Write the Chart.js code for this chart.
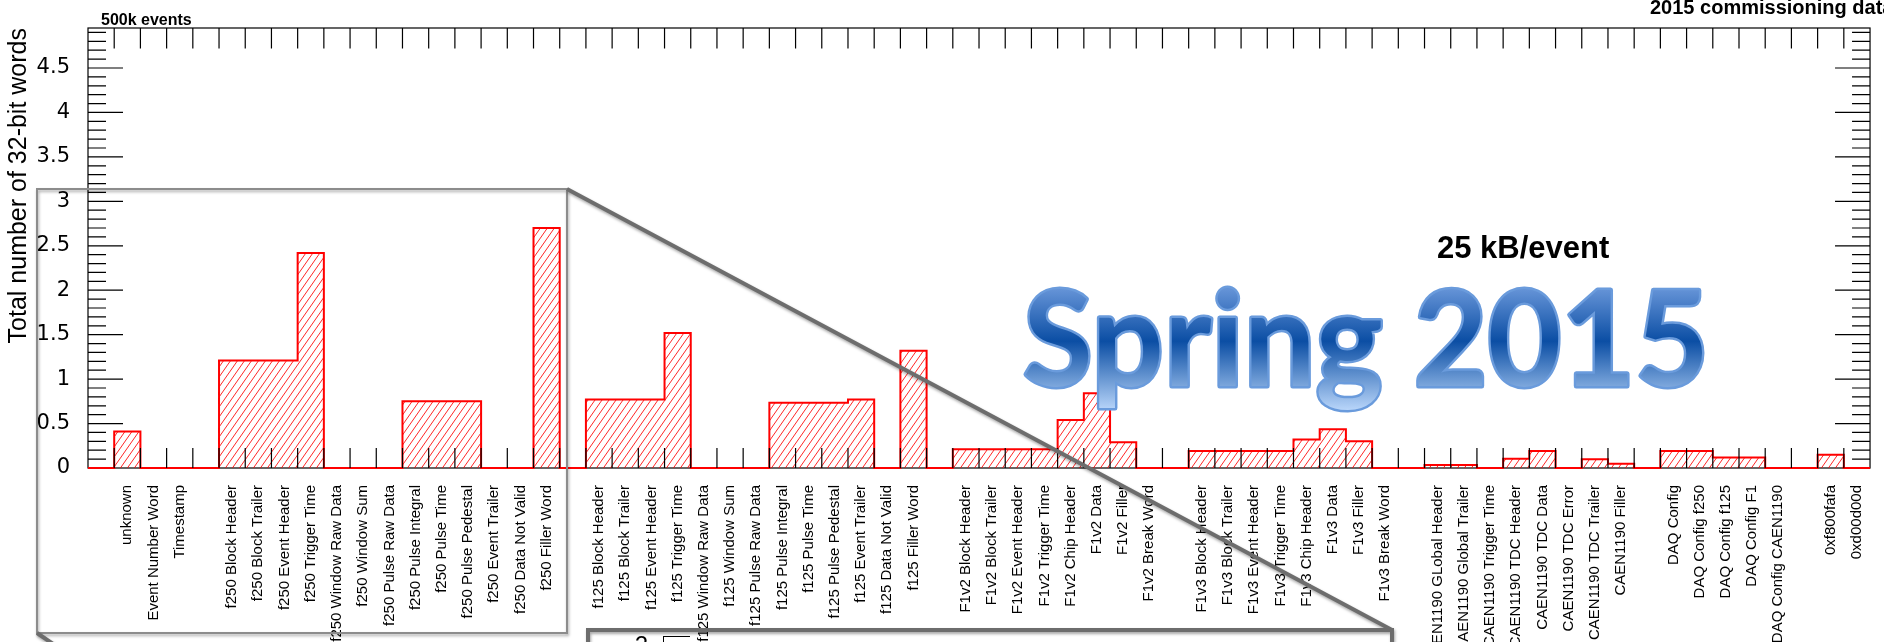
<!DOCTYPE html>
<html>
<head>
<meta charset="utf-8">
<script src="https://cdn.jsdelivr.net/npm/chart.js@4/dist/chart.umd.min.js"></script>
<style>
  html, body { margin: 0; padding: 0; background: #ffffff; }
  canvas { display: block; }
</style>
</head>
<body>
<canvas id="words" width="1884" height="642"></canvas>
<script>
// Word-type breakdown, 500k events, 2015 commissioning data

const binLabels = [
  '', 'unknown', 'Event Number Word', 'Timestamp', '',
  'f250 Block Header', 'f250 Block Trailer', 'f250 Event Header', 'f250 Trigger Time',
  'f250 Window Raw Data', 'f250 Window Sum', 'f250 Pulse Raw Data', 'f250 Pulse Integral',
  'f250 Pulse Time', 'f250 Pulse Pedestal', 'f250 Event Trailer', 'f250 Data Not Valid',
  'f250 Filler Word', '',
  'f125 Block Header', 'f125 Block Trailer', 'f125 Event Header', 'f125 Trigger Time',
  'f125 Window Raw Data', 'f125 Window Sum', 'f125 Pulse Raw Data', 'f125 Pulse Integral',
  'f125 Pulse Time', 'f125 Pulse Pedestal', 'f125 Event Trailer', 'f125 Data Not Valid',
  'f125 Filler Word', '',
  'F1v2 Block Header', 'F1v2 Block Trailer', 'F1v2 Event Header', 'F1v2 Trigger Time',
  'F1v2 Chip Header', 'F1v2 Data', 'F1v2 Filler', 'F1v2 Break Word', '',
  'F1v3 Block Header', 'F1v3 Block Trailer', 'F1v3 Event Header', 'F1v3 Trigger Time',
  'F1v3 Chip Header', 'F1v3 Data', 'F1v3 Filler', 'F1v3 Break Word', '',
  'CAEN1190 GLobal Header', 'CAEN1190 Global Trailer', 'CAEN1190 Trigger Time',
  'CAEN1190 TDC Header', 'CAEN1190 TDC Data', 'CAEN1190 TDC Error',
  'CAEN1190 TDC Trailer', 'CAEN1190 Filler', '',
  'DAQ Config', 'DAQ Config f250', 'DAQ Config f125', 'DAQ Config F1',
  'DAQ Config CAEN1190', '',
  '0xf800fafa', '0xd00d00d',
];

// total number of 32-bit words per event, one value per bin
const wordCounts = [
  0, 0.41, 0, 0, 0,
  1.21, 1.21, 1.21, 2.42,
  0, 0, 0, 0.75,
  0.75, 0.75, 0, 0,
  2.70, 0,
  0.77, 0.77, 0.77, 1.52,
  0, 0, 0, 0.735,
  0.735, 0.735, 0.77, 0,
  1.32, 0,
  0.21, 0.21, 0.21, 0.21,
  0.54, 0.84, 0.29, 0, 0,
  0.19, 0.19, 0.19, 0.19,
  0.32, 0.435, 0.30, 0, 0,
  0.034, 0.034, 0,
  0.105, 0.19, 0,
  0.098, 0.049, 0,
  0.19, 0.19, 0.117, 0.117,
  0, 0,
  0.15, 0,
];

const yMax = 4.95;
const yStep = 0.5;

const FONT = '"Liberation Sans", Arial, Helvetica, sans-serif';

// ROOT style 3004-ish hatch
function makeHatch() {
  const w = 7, h = 10;
  const c = document.createElement('canvas');
  c.width = w; c.height = h;
  const g = c.getContext('2d');
  g.strokeStyle = 'rgba(255,0,0,0.85)';
  g.lineWidth = 1;
  g.beginPath();
  for (let k = -1; k <= 1; k++) {
    g.moveTo(k * w, h);
    g.lineTo(k * w + w, 0);
  }
  g.stroke();
  return g.createPattern(c, 'repeat');
}

// histogram as left-edge points + closing point
const histPoints = wordCounts.map((v, i) => ({ x: i, y: v }));
histPoints.push({ x: wordCounts.length, y: wordCounts[wordCounts.length - 1] });

// frame, inward ticks and the slide overlays
const rootFrame = {
  id: 'rootFrame',
  beforeDatasetsDraw(chart) {
    const { ctx, chartArea: a } = chart;
    ctx.save();
    ctx.strokeStyle = '#000';
    ctx.lineWidth = 1.2;
    ctx.strokeRect(a.left, a.top, a.right - a.left, a.bottom - a.top);
    ctx.restore();
  },
  afterDatasetsDraw(chart) {
    const { ctx, chartArea: a, scales } = chart;
    const xh = scales.xh, y = scales.y;
    ctx.save();
    ctx.strokeStyle = '#000';
    ctx.lineWidth = 1.2;
    ctx.beginPath();
    for (let i = 1; i < binLabels.length; i++) {
      const px = xh.getPixelForValue(i);
      ctx.moveTo(px, a.bottom); ctx.lineTo(px, a.bottom - 20);
      ctx.moveTo(px, a.top); ctx.lineTo(px, a.top + 20.5);
    }
    for (let k = 1; k * 0.1 < yMax; k++) {
      const py = y.getPixelForValue(k * 0.1);
      const len = k % 5 === 0 ? 35 : 18;
      ctx.moveTo(a.left, py); ctx.lineTo(a.left + len, py);
      ctx.moveTo(a.right, py); ctx.lineTo(a.right - len, py);
    }
    ctx.stroke();
    ctx.restore();
  },
  afterDraw(chart) {
    const ctx = chart.ctx;

    ctx.save();
    ctx.fillStyle = '#000';
    ctx.font = 'bold 16px ' + FONT;
    ctx.fillText('500k events', 101, 25);
    ctx.font = 'bold 20px ' + FONT;
    ctx.fillText('2015 commissioning data', 1650, 14);
    ctx.font = 'bold 31px ' + FONT;
    ctx.fillText('25 kB/event', 1437, 258);
    ctx.restore();

    // zoom inset frame + connector lines
    ctx.save();
    ctx.shadowColor = 'rgba(0,0,0,0.35)';
    ctx.shadowBlur = 3;
    ctx.shadowOffsetX = 1;
    ctx.shadowOffsetY = 2;
    ctx.strokeStyle = '#8c8c8c';
    ctx.lineWidth = 2;
    ctx.strokeRect(37, 189, 530, 444);
    ctx.strokeStyle = '#6d6d6d';
    ctx.lineWidth = 4;
    ctx.beginPath();
    ctx.moveTo(567, 189); ctx.lineTo(1392, 630);
    ctx.moveTo(37, 633); ctx.lineTo(62, 650);
    ctx.moveTo(588, 660); ctx.lineTo(588, 630); ctx.lineTo(1392, 630); ctx.lineTo(1392, 660);
    ctx.stroke();
    ctx.restore();

    ctx.save();
    ctx.strokeStyle = '#000';
    ctx.lineWidth = 1;
    ctx.beginPath();
    ctx.moveTo(663.5, 636); ctx.lineTo(663.5, 642);
    ctx.moveTo(663, 636.5); ctx.lineTo(690, 636.5);
    ctx.stroke();
    ctx.fillStyle = '#000';
    ctx.font = '24px ' + FONT;
    ctx.textAlign = 'right';
    ctx.fillText('2', 648, 653);
    ctx.restore();

    // WordArt title
    ctx.save();
    ctx.font = 'bold 132px Lato, "Open Sans", sans-serif';
    const txt = 'Spring 2015';
    const tw = ctx.measureText(txt).width;
    ctx.translate(1023, 386);
    ctx.scale(686 / tw, 1);
    ctx.lineJoin = 'round';
    ctx.strokeStyle = '#6a9bdc';
    ctx.lineWidth = 5;
    ctx.strokeText(txt, 0, 0);
    const grad = ctx.createLinearGradient(0, -96, 0, 26);
    grad.addColorStop(0, '#6392d6');
    grad.addColorStop(0.42, '#0b4ea4');
    grad.addColorStop(1, '#bdd9fc');
    ctx.fillStyle = grad;
    ctx.fillText(txt, 0, 0);
    ctx.restore();
  },
};

const ctx = document.getElementById('words').getContext('2d');
new Chart(ctx, {
  type: 'line',
  data: {
    labels: binLabels,
    datasets: [{
      data: histPoints,
      xAxisID: 'xh',
      yAxisID: 'y',
      stepped: 'before',
      borderColor: '#ff0000',
      borderWidth: 2,
      backgroundColor: makeHatch(),
      fill: 'origin',
      pointRadius: 0,
      tension: 0,
      clip: 4,
    }],
  },
  options: {
    responsive: false,
    animation: false,
    devicePixelRatio: 1,
    layout: { padding: { top: 28, right: 10, left: 0, bottom: 0 } },
    plugins: {
      legend: { display: false },
      tooltip: { enabled: false },
    },
    scales: {
      x: {
        type: 'category',
        position: 'bottom',
        offset: true,
        grid: { display: false },
        border: { display: false },
        ticks: {
          autoSkip: false,
          minRotation: 90,
          maxRotation: 90,
          padding: 9,
          color: '#000',
          font: { family: FONT, size: 15 },
        },
        afterFit: (s) => { s.height = 642 - 468; },
      },
      xh: {
        type: 'linear',
        display: false,
        min: 0,
        max: binLabels.length,
      },
      y: {
        type: 'linear',
        min: 0,
        max: yMax,
        grid: { display: false },
        border: { display: false },
        ticks: {
          stepSize: yStep,
          includeBounds: false,
          padding: 10,
          color: '#000',
          font: { family: '"DejaVu Sans", sans-serif', size: 21 },
          callback: (v) => String(Math.round(v * 10) / 10),
        },
        title: {
          display: true,
          text: 'Total number of 32-bit words',
          align: 'end',
          color: '#000',
          font: { family: FONT, size: 25 },
          padding: { top: 4, bottom: 0 },
        },
        afterFit: (s) => { s.width = 88; },
      },
    },
  },
  plugins: [rootFrame],
});
</script>
</body>
</html>
